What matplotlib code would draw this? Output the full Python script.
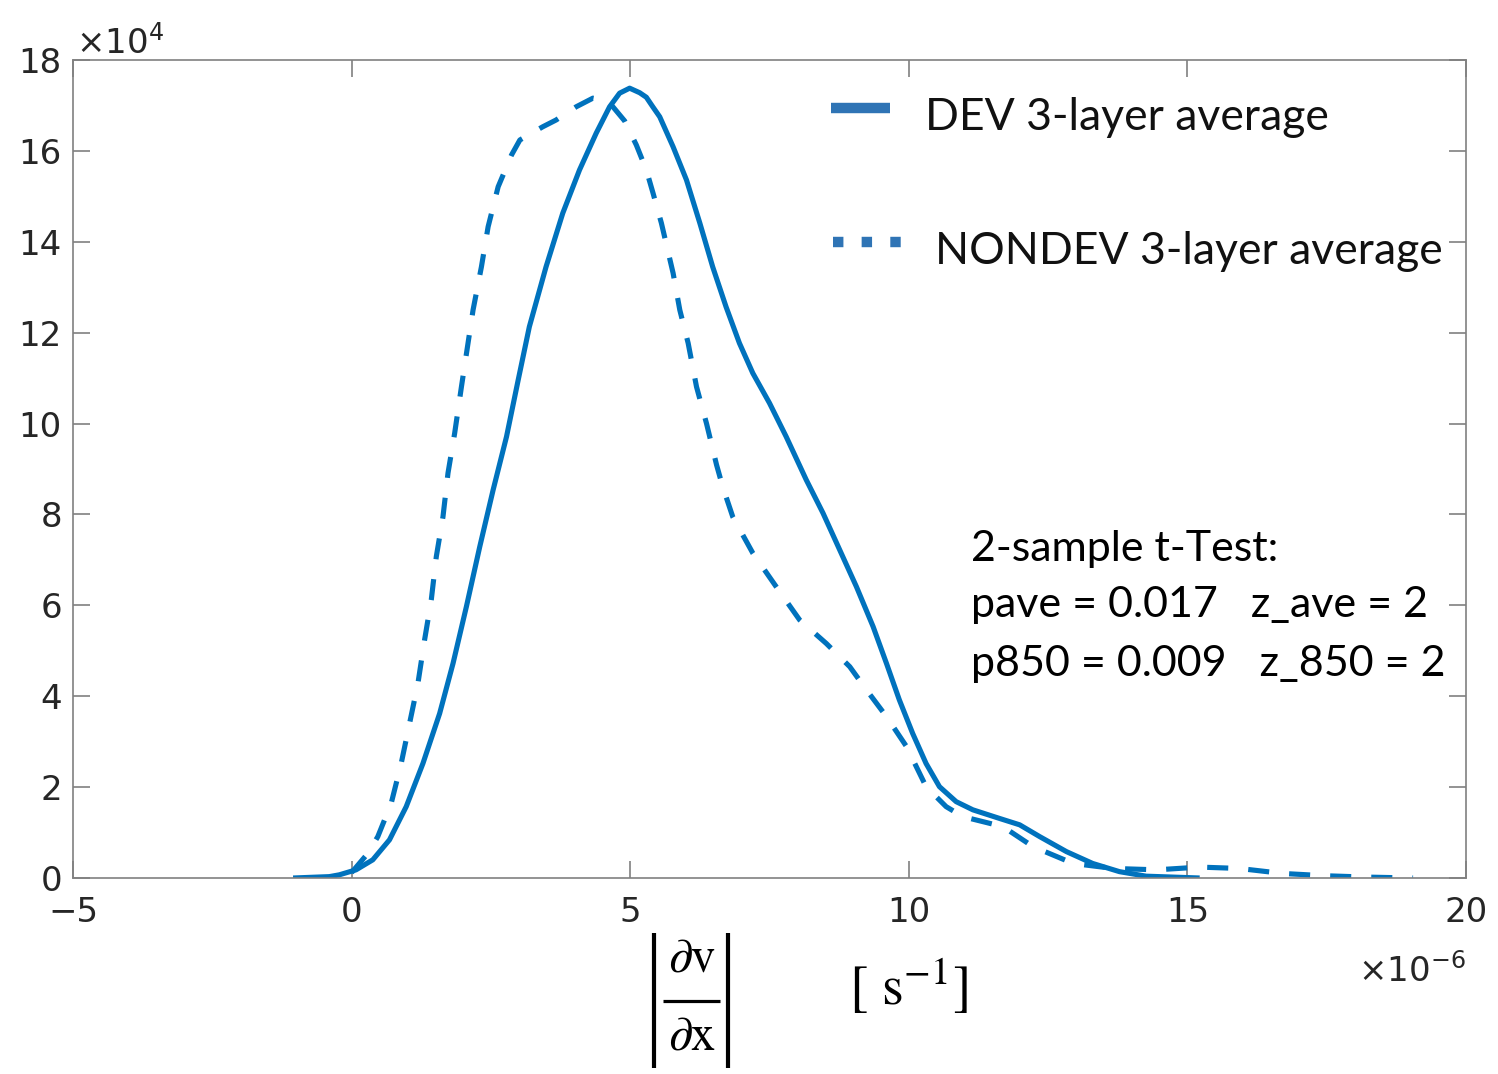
import matplotlib
matplotlib.use("Agg")
import matplotlib.pyplot as plt
from matplotlib.lines import Line2D

# Velocity shear |dv/dx| in units of 1e-6 s^-1, counts in units of 1e4
dev_x = [-1.05, -0.4, -0.22, 0.08, 0.38, 0.68, 0.98, 1.28, 1.58, 1.82, 2.06, 2.30,
         2.54, 2.78, 2.99, 3.19, 3.49, 3.79, 4.09, 4.39, 4.63, 4.81, 4.99, 5.17,
         5.29, 5.40, 5.53, 5.77, 6.01, 6.25, 6.48, 6.72, 6.96, 7.20, 7.50, 7.80,
         8.16, 8.46, 8.76, 9.06, 9.36, 9.60, 9.83, 10.07, 10.31, 10.55, 10.85,
         11.15, 11.63, 11.99, 12.35, 12.83, 13.30, 13.78, 14.26, 15.22]
dev_y = [0.0, 0.03, 0.07, 0.18, 0.40, 0.84, 1.57, 2.52, 3.62, 4.72, 5.97, 7.29,
         8.54, 9.71, 10.96, 12.13, 13.45, 14.63, 15.58, 16.39, 16.97, 17.27, 17.38,
         17.28, 17.18, 16.98, 16.75, 16.09, 15.36, 14.41, 13.45, 12.57, 11.77, 11.11,
         10.45, 9.71, 8.76, 8.03, 7.22, 6.41, 5.53, 4.72, 3.92, 3.18, 2.52, 2.01,
         1.68, 1.50, 1.31, 1.17, 0.91, 0.58, 0.32, 0.14, 0.04, 0.0]

nondev_x = [0.0, 0.29, 0.47, 0.71, 0.89, 1.04, 1.19, 1.31, 1.43, 1.52, 1.64, 1.73,
            1.85, 1.97, 2.05, 2.18, 2.33, 2.45, 2.63, 2.87, 3.02, 3.43, 3.67, 4.03,
            4.33, 4.52, 4.69, 4.90, 5.11, 5.29, 5.41, 5.56, 5.77, 5.89, 6.04, 6.19,
            6.37, 6.55, 6.66, 6.84, 7.20, 7.62, 8.04, 8.52, 8.94, 9.24, 9.60, 9.96,
            10.31, 10.67, 10.97, 11.69, 12.23, 12.95, 13.67, 14.45, 15.22, 15.93,
            16.71, 17.46, 18.21, 19.05]
nondev_y = [0.12, 0.54, 0.91, 1.64, 2.52, 3.40, 4.28, 5.24, 6.12, 7.07, 7.95, 8.91,
            9.79, 10.80, 11.45, 12.50, 13.45, 14.33, 15.21, 15.91, 16.24, 16.53, 16.68,
            16.97, 17.16, 17.12, 16.97, 16.66, 16.13, 15.58, 15.07, 14.41, 13.31, 12.50,
            11.77, 10.81, 10.00, 9.09, 8.61, 7.95, 7.15, 6.41, 5.68, 5.16, 4.65, 4.14,
            3.55, 2.89, 2.01, 1.57, 1.35, 1.13, 0.69, 0.32, 0.21, 0.18, 0.24, 0.21,
            0.10, 0.05, 0.02, 0.0]

series_labels = ["DEV 3-layer average", "NONDEV 3-layer average"]
stats_lines = ["2-sample t-Test:", "pave = 0.017   z_ave = 2", "p850 = 0.009   z_850 = 2"]
x_ticks = [-5, 0, 5, 10, 15, 20]
y_ticks = [0, 2, 4, 6, 8, 10, 12, 14, 16, 18]

line_color = "#0072BD"
legend_color = "#2F74B5"
axis_gray = "#808080"
tick_color = "#262626"

W, H = 1498, 1074
fig = plt.figure(figsize=(W / 100, H / 100), dpi=100)
ax = fig.add_axes([73 / W, 1 - 878 / H, (1466 - 73) / W, (878 - 60) / H])

ax.plot(dev_x, dev_y, color=line_color, lw=3.7, solid_joinstyle="round",
        solid_capstyle="butt")
ax.plot(nondev_x, nondev_y, color=line_color, lw=3.7, dashes=(4.1, 3.9),
        dash_joinstyle="round", dash_capstyle="butt")

ax.set_xlim(-5, 20)
ax.set_ylim(0, 18)
ax.set_xticks(x_ticks)
ax.set_yticks(y_ticks)
ax.set_xticklabels([f"{v:g}".replace("-", "\u2212") for v in x_ticks])
ax.set_yticklabels([str(v) for v in y_ticks])
ax.tick_params(direction="in", length=12, width=1.2, color=axis_gray,
               top=True, right=True, labelsize=24.5, labelcolor=tick_color)
ax.tick_params(axis="x", pad=13)
ax.tick_params(axis="y", pad=8)
for s in ax.spines.values():
    s.set_color(axis_gray)
    s.set_linewidth(1.2)


def fx(px):
    return px / W


def fy(py):
    return 1 - py / H


# scale factors
fig.text(fx(76), fy(53), r"$\times10^{4}$", ha="left", va="baseline",
         fontsize=24.5, color=tick_color, math_fontfamily="dejavusans")
fig.text(fx(1466), fy(981), r"$\times10^{-6}$", ha="right", va="baseline",
         fontsize=24.5, color=tick_color, math_fontfamily="dejavusans")

# x-axis label: |dv/dx|  [ s^-1 ]
fig.text(fx(692), fy(958), r"$\partial\mathrm{v}$", ha="center", va="center",
         fontsize=35, math_fontfamily="stix")
fig.text(fx(692), fy(1036), r"$\partial\mathrm{x}$", ha="center", va="center",
         fontsize=35, math_fontfamily="stix")
fig.add_artist(Line2D([fx(663), fx(720)], [fy(1001), fy(1001)], color="black",
                      lw=2.3, solid_capstyle="butt"))
for bx in (654, 728):
    fig.add_artist(Line2D([fx(bx), fx(bx)], [fy(933), fy(1068)], color="black",
                          lw=3.0, solid_capstyle="butt"))
fig.text(fx(849), fy(987), r"[ s$^{-1}$]", ha="left", va="center", fontsize=40,
         family="STIXGeneral", math_fontfamily="stix")

# legend
fig.add_artist(Line2D([fx(831), fx(890)], [fy(108), fy(108)], color=legend_color,
                      lw=7.5, solid_capstyle="butt"))
fig.add_artist(Line2D([fx(833), fx(904)], [fy(242), fy(242)], color=legend_color,
                      lw=7.5, dashes=(1.0, 1.75), dash_capstyle="butt"))
fig.text(fx(925), fy(117), series_labels[0], ha="left", va="center",
         fontsize=32, family="Lato", color="#111111")
fig.text(fx(935), fy(251), series_labels[1], ha="left", va="center",
         fontsize=32, family="Lato", color="#111111")

# statistics annotation
for txt, base in zip(stats_lines, (561, 617, 676)):
    fig.text(fx(971), fy(base), txt, ha="left", va="baseline", fontsize=31,
             family="Lato", color="black")

fig.savefig("out.png", dpi=100, facecolor="white")
